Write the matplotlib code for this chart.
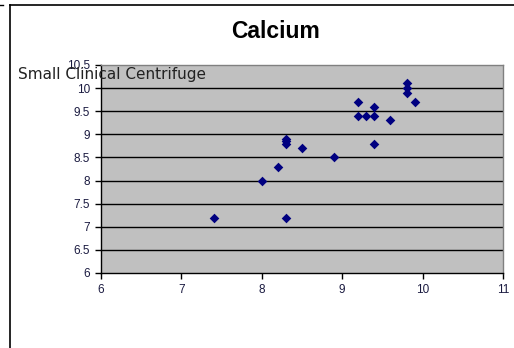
import matplotlib
matplotlib.use("Agg")
import matplotlib.pyplot as plt
from matplotlib.lines import Line2D

title = "Calcium"
series_name = "Small Clinical Centrifuge"
x_vals = [7.4, 8.0, 8.2, 8.3, 8.3, 8.3, 8.3, 8.5, 8.9, 9.2, 9.2, 9.3, 9.4, 9.4, 9.4, 9.6, 9.8, 9.8, 9.8, 9.9]
y_vals = [7.2, 8.0, 8.3, 8.9, 8.85, 8.8, 7.2, 8.7, 8.5, 9.7, 9.4, 9.4, 9.4, 9.6, 8.8, 9.3, 10.1, 10.0, 9.9, 9.7]
x_ticks = [6, 7, 8, 9, 10, 11]
y_ticks = [6, 6.5, 7, 7.5, 8, 8.5, 9, 9.5, 10, 10.5]
y_tick_labels = ["6", "6.5", "7", "7.5", "8", "8.5", "9", "9.5", "10", "10.5"]

plt.rcParams['font.family'] = ['Liberation Sans', 'DejaVu Sans']
W, H = 514, 348
fig = plt.figure(figsize=(W / 100, H / 100), dpi=100)
fig.patch.set_facecolor('white')

# chart area border
fig.add_artist(Line2D([9.5 / W, 9.5 / W], [0, 1 - 4.5 / H], transform=fig.transFigure, color='black', lw=1.2))
fig.add_artist(Line2D([9.5 / W, 1], [1 - 4.5 / H, 1 - 4.5 / H], transform=fig.transFigure, color='black', lw=1.2))
fig.add_artist(Line2D([0, 3 / W], [1 - 4.5 / H, 1 - 4.5 / H], transform=fig.transFigure, color='black', lw=1.0))

ax = fig.add_axes([101 / W, (H - 273) / H, 402 / W, 208 / H])
ax.set_facecolor('#C0C0C0')
ax.set_xlim(6, 11)
ax.set_ylim(6, 10.5)
ax.set_xticks(x_ticks)
ax.set_xticklabels([str(t) for t in x_ticks])
ax.set_yticks(y_ticks)
ax.set_yticklabels(y_tick_labels)
for yt in y_ticks[1:-1]:
    ax.axhline(yt, color='black', lw=1.0, zorder=1)
ax.scatter(x_vals, y_vals, marker='D', s=24, color='#000080', zorder=3, linewidths=0)

for s in ['left', 'bottom']:
    ax.spines[s].set_color('black')
    ax.spines[s].set_linewidth(1.0)
for s in ['right', 'top']:
    ax.spines[s].set_color('#808080')
    ax.spines[s].set_linewidth(1.0)
ax.tick_params(direction='out', length=4, width=1, labelsize=8.5, colors='black', pad=4)
for lab in ax.get_xticklabels() + ax.get_yticklabels():
    lab.set_color('#1a1a40')

fig.text(275 / W, 1 - 32 / H, title, ha='center', va='center', fontsize=16.5, fontweight='bold')
fig.text(18 / W, 1 - 75 / H, series_name, ha='left', va='center', fontsize=11,
         family=['DejaVu Sans'], color='#222222', zorder=5)

fig.savefig("out.png", dpi=100)
